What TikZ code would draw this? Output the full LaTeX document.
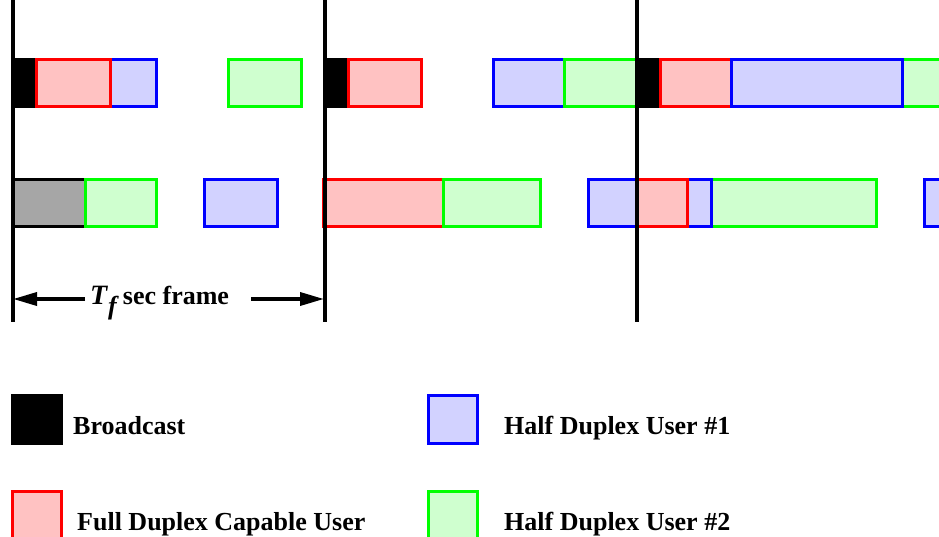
\documentclass[tikz,border=0pt]{standalone}
\usepackage{fontspec}
\setmainfont{Liberation Serif}
\usetikzlibrary{arrows.meta}
\definecolor{rfill}{HTML}{FFC2C2}
\definecolor{bfill}{HTML}{D2D2FF}
\definecolor{gfill}{HTML}{CFFFCF}
\definecolor{kfill}{HTML}{A6A6A6}
\definecolor{pgreen}{HTML}{00FF00}
\newcommand\slot[5]{\draw[#1] (#2,#4) rectangle (#3,#5);}
\begin{document}
\begin{tikzpicture}[x=1pt,y=-1pt,
  bc/.style={fill=black,draw=black,line width=3pt},
  fd/.style={fill=rfill,draw=red,line width=3pt},
  hone/.style={fill=bfill,draw=blue,line width=3pt},
  htwo/.style={fill=gfill,draw=pgreen,line width=3pt},
  gr/.style={fill=kfill,draw=black,line width=3pt},
  frameline/.style={line width=4pt,draw=black},
  lab/.style={font=\fontsize{26}{30}\selectfont\bfseries,anchor=base west,inner sep=0pt},
  dim/.style={line width=3.5pt,-{Triangle[length=24pt,width=13pt]}}]
\useasboundingbox (0,0) rectangle (939,537);
\clip (0,0) rectangle (939,537);
% ---------- row 1 ----------
% frame 1
\slot{bc}{12}{36}{59.5}{106.5}
\slot{hone}{110}{156.5}{59.5}{106.5}
\slot{fd}{36}{110}{59.5}{106.5}
\slot{htwo}{228.5}{301.5}{59.5}{106.5}
% frame 2
\slot{bc}{325}{348}{59.5}{106.5}
\slot{fd}{348}{421.5}{59.5}{106.5}
\slot{hone}{493.5}{564.5}{59.5}{106.5}
\slot{htwo}{564.5}{640}{59.5}{106.5}
% frame 3
\slot{bc}{637}{660}{59.5}{106.5}
\slot{fd}{660}{731}{59.5}{106.5}
\slot{htwo}{902}{960}{59.5}{106.5}
\slot{hone}{731}{902}{59.5}{106.5}
% ---------- row 2 ----------
% frame 1
\slot{gr}{13}{85}{179.5}{226.5}
\slot{htwo}{85}{156.5}{179.5}{226.5}
\slot{hone}{204.5}{277.5}{179.5}{226.5}
% frame 2
\slot{fd}{323}{443}{179.5}{226.5}
\slot{htwo}{443}{540.5}{179.5}{226.5}
\slot{htwo}{711}{876.5}{179.5}{226.5}
\slot{hone}{588.5}{711}{179.5}{226.5}
\slot{fd}{637}{687}{179.5}{226.5}
% frame 3
\slot{hone}{924.5}{960}{179.5}{226.5}
% ---------- frame boundaries ----------
\coordinate (t1) at (13,0);   \coordinate (b1) at (13,322);
\coordinate (t2) at (325,0);  \coordinate (b2) at (325,322);
\coordinate (t3) at (637,0);  \coordinate (b3) at (637,322);
\draw[frameline] (t1) -- (b1);
\draw[frameline] (t2) -- (b2);
\draw[frameline] (t3) -- (b3);
% ---------- frame length ----------
\node[lab] (tf) at (90,304) {{\fontsize{28}{30}\selectfont\textit{T}}\raisebox{-0.4em}{\textit{f}}\hspace{0.15em}sec frame};
\coordinate (la) at (85,299); \coordinate (lt) at (13,299);
\coordinate (ra) at (251,299); \coordinate (rt) at (324,299);
\draw[dim] (la) -- (lt);
\draw[dim] (ra) -- (rt);
% ---------- legend ----------
\fill[black] (11,394) rectangle (63,445);
\node[lab] (l1) at (73,434) {Broadcast};
\slot{hone}{428.5}{477.5}{395.5}{443.5}
\node[lab] (l2) at (504,434) {Half Duplex User \#1};
\slot{fd}{12.5}{61.5}{491.5}{545}
\node[lab] (l3) at (77,530) {Full Duplex Capable User};
\slot{htwo}{428.5}{477.5}{491.5}{545}
\node[lab] (l4) at (504,530) {Half Duplex User \#2};
\end{tikzpicture}
\end{document}
